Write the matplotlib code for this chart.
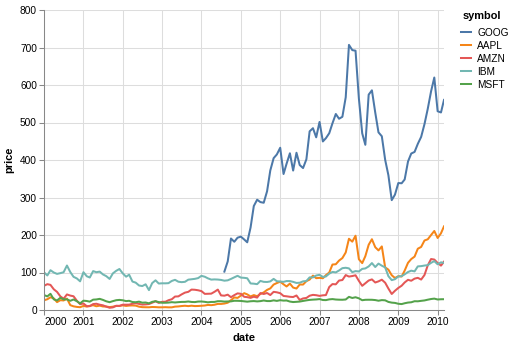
import matplotlib
matplotlib.use("Agg")
import matplotlib.pyplot as plt
import matplotlib.dates as mdates
import pandas as pd
import numpy as np

plt.rcParams['font.family'] = ['Liberation Sans', 'DejaVu Sans']

symbols = ['GOOG', 'AAPL', 'AMZN', 'IBM', 'MSFT']
colors = ['#4c78a8', '#f58518', '#e45756', '#72b7b2', '#54a24b']

msft = [39.81, 36.35, 43.22, 28.37, 25.45, 32.54, 28.4, 28.4, 24.53, 28.02, 23.34, 17.65,
        24.84, 24, 22.25, 27.56, 28.14, 29.7, 26.93, 23.21, 20.82, 23.65, 26.12, 26.95,
        25.92, 23.73, 24.53, 21.26, 20.71, 22.25, 19.52, 19.97, 17.79, 21.75, 23.46, 21.03,
        19.31, 19.34, 19.76, 20.87, 20.09, 20.93, 21.56, 21.65, 22.69, 21.45, 21.1, 22.46,
        22.69, 21.77, 20.46, 21.45, 21.53, 23.44, 23.38, 22.47, 22.76, 23.02, 24.6, 24.52,
        24.11, 23.15, 22.24, 23.28, 23.82, 22.93, 23.64, 25.35, 23.83, 23.8, 25.71, 24.29,
        26.14, 25.04, 25.36, 22.5, 21.19, 21.8, 22.51, 24.13, 25.68, 26.96, 27.66, 28.13,
        29.07, 26.63, 26.35, 28.3, 29.11, 27.95, 27.5, 27.34, 28.04, 35.03, 32.09, 34,
        31.13, 26.07, 27.21, 27.34, 27.25, 26.47, 24.75, 26.36, 25.78, 21.57, 19.66, 18.91,
        16.63, 15.81, 17.99, 19.84, 20.59, 23.42, 23.18, 24.43, 25.49, 27.48, 29.27, 30.34,
        28.05, 28.67, 28.8]

amzn = [64.56, 68.87, 67, 55.19, 48.31, 36.31, 30.12, 41.5, 38.44, 36.62, 24.69, 15.56,
        17.31, 10.19, 10.23, 15.78, 16.69, 14.15, 12.49, 8.94, 5.97, 6.98, 11.32, 10.82,
        14.19, 14.1, 14.3, 16.69, 18.23, 16.25, 14.45, 14.94, 15.93, 19.36, 23.35, 18.89,
        21.85, 22.01, 26.03, 28.69, 35.89, 36.32, 41.64, 46.32, 48.43, 54.43, 53.97, 52.62,
        50.4, 43.01, 43.28, 43.6, 48.5, 54.4, 38.92, 38.14, 40.86, 34.13, 39.68, 44.29,
        43.22, 35.18, 34.27, 32.36, 35.51, 33.09, 45.15, 42.7, 45.3, 39.86, 48.46, 47.15,
        44.82, 37.44, 36.53, 35.21, 34.61, 38.68, 26.89, 30.83, 32.12, 38.09, 40.34, 39.46,
        37.67, 39.14, 39.79, 61.33, 69.14, 68.41, 78.54, 79.91, 93.15, 89.15, 90.56, 92.64,
        77.7, 64.47, 71.3, 78.63, 81.62, 73.33, 76.34, 80.81, 72.76, 57.24, 42.7, 51.28,
        58.82, 64.79, 73.44, 80.52, 77.99, 83.66, 85.76, 81.19, 93.36, 118.81, 135.91, 134.52,
        125.41, 118.4, 128.82]

ibm = [100.52, 92.11, 106.11, 99.95, 96.31, 98.33, 100.74, 118.62, 101.19, 88.5, 84.12, 76.47,
       100.76, 89.98, 86.63, 103.7, 100.82, 102.35, 94.87, 90.25, 82.82, 97.58, 104.5, 109.36,
       97.54, 88.82, 94.15, 75.82, 72.97, 65.31, 63.86, 68.52, 53.01, 71.76, 79.16, 70.58,
       71.22, 71.13, 71.57, 77.47, 80.48, 75.42, 74.28, 75.12, 80.91, 81.96, 83.08, 85.05,
       91.06, 88.7, 84.41, 81.04, 81.59, 81.19, 80.19, 78.17, 79.13, 82.84, 87.15, 91.16,
       86.39, 85.78, 84.66, 70.77, 70.18, 68.93, 77.53, 75.07, 74.7, 76.25, 82.98, 76.73,
       75.89, 75.09, 77.17, 77.05, 75.04, 72.15, 72.7, 76.35, 77.26, 87.06, 86.95, 91.9,
       93.79, 88.18, 89.44, 96.98, 101.54, 100.25, 105.4, 111.54, 112.6, 111, 100.9, 103.7,
       102.75, 109.64, 110.87, 116.23, 125.14, 114.6, 123.74, 118.16, 113.53, 90.24, 79.65, 82.15,
       89.46, 90.32, 95.09, 101.29, 104.85, 103.01, 116.34, 117, 118.55, 119.54, 125.79, 130.32,
       121.85, 127.16, 125.55]

aapl = [25.94, 28.66, 33.95, 31.01, 21, 26.19, 25.41, 30.47, 12.88, 9.78, 8.25, 7.44,
        10.81, 9.12, 11.03, 12.74, 9.98, 11.62, 9.4, 9.27, 7.76, 8.78, 10.65, 10.95,
        12.36, 10.85, 11.84, 12.14, 11.65, 8.86, 7.63, 7.38, 7.25, 8.03, 7.75, 7.16,
        7.18, 7.51, 7.07, 7.11, 8.98, 9.53, 10.54, 11.31, 10.36, 11.44, 10.45, 10.69,
        11.28, 11.96, 13.52, 12.89, 14.03, 16.27, 16.17, 17.25, 19.38, 26.2, 33.53, 32.2,
        38.45, 44.86, 41.67, 36.06, 39.76, 36.81, 42.65, 46.89, 53.61, 57.59, 67.82, 71.89,
        75.51, 68.49, 62.72, 70.39, 59.77, 57.27, 67.96, 67.85, 76.98, 81.08, 91.66, 84.84,
        85.73, 84.61, 92.91, 99.8, 121.19, 122.04, 131.76, 138.48, 153.47, 189.95, 182.22, 198.08,
        135.36, 125.02, 143.5, 173.95, 188.75, 167.44, 158.95, 169.53, 113.66, 107.59, 92.67, 85.35,
        90.13, 89.31, 105.12, 125.83, 135.81, 142.43, 163.39, 168.21, 185.35, 188.5, 199.91, 210.73,
        192.06, 204.62, 223.02]

goog = [102.37, 129.6, 190.64, 181.98, 192.79,
        195.62, 187.99, 180.51, 220, 277.27, 294.15, 287.76, 286, 316.46, 372.14, 404.91, 414.86,
        432.66, 362.62, 390, 417.94, 371.82, 419.33, 386.6, 378.53, 401.9, 476.39, 484.81, 460.48,
        501.5, 449.45, 458.16, 471.38, 497.91, 522.7, 510, 515.25, 567.27, 707, 693, 691.48,
        564.3, 471.18, 440.47, 574.29, 585.8, 526.42, 473.75, 463.29, 400.52, 359.36, 292.96, 307.65,
        338.53, 337.99, 348.06, 395.97, 417.23, 421.59, 443.05, 461.67, 495.85, 536.12, 583, 619.98,
        529.94, 526.8, 560.19]

dates_all = pd.date_range('2000-01-01', '2010-03-01', freq='MS')
dates_goog = pd.date_range('2004-08-01', '2010-03-01', freq='MS')

series = {
    'GOOG': (dates_goog, goog),
    'AAPL': (dates_all, aapl),
    'AMZN': (dates_all, amzn),
    'IBM': (dates_all, ibm),
    'MSFT': (dates_all, msft),
}

W, H = 517, 347
fig = plt.figure(figsize=(W / 100, H / 100), dpi=100)
# plot area 400x300 px at (44, 10)
ax = fig.add_axes([44 / W, 1 - 310 / H, 400 / W, 300 / H])

for sym, c in zip(symbols, colors):
    d, v = series[sym]
    ax.plot(d, v, color=c, linewidth=1.45, label=sym, solid_joinstyle='round')

ax.set_xlim(pd.Timestamp('2000-01-01'), pd.Timestamp('2010-03-01'))
ax.set_ylim(0, 800)
ax.set_yticks(range(0, 801, 100))
ax.xaxis.set_major_locator(mdates.YearLocator())
ax.xaxis.set_major_formatter(mdates.DateFormatter('%Y'))

ax.grid(True, color='#dddddd', linewidth=0.75)
ax.set_axisbelow(True)
for s in ['top', 'right']:
    ax.spines[s].set_visible(False)
for s in ['left', 'bottom']:
    ax.spines[s].set_color('#888888')
    ax.spines[s].set_linewidth(0.75)
ax.tick_params(length=3.6, width=0.75, color='#888888', labelsize=7.3, pad=1.5)

# first x label flush with the axis start
fig.canvas.draw()
ax.get_xticklabels()[0].set_horizontalalignment('left')

ax.set_xlabel('date', fontsize=7.9, fontweight='bold', labelpad=4)
ax.set_ylabel('price', fontsize=7.9, fontweight='bold', labelpad=4)

# legend
fig.text(463 / W, 1 - 16 / H, 'symbol', fontsize=7.9, fontweight='bold',
         ha='left', va='center')
leg = fig.legend(loc='upper left', bbox_to_anchor=(461 / W, 1 - 27.5 / H), frameon=False,
                 fontsize=7.3, handlelength=1.0, handletextpad=0.6,
                 labelspacing=0.3, borderaxespad=0, borderpad=0)
for ln in leg.get_lines():
    ln.set_linewidth(1.45)

fig.savefig('out.png', dpi=100)
